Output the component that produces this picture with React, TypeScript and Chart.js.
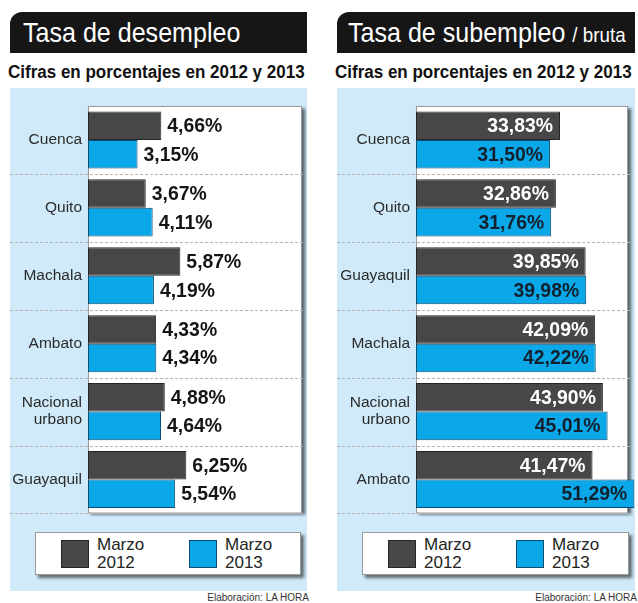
import React, { useEffect, useRef } from "react";
import { Chart, registerables } from "chart.js";
Chart.register(...registerables);

const SANS = "'Liberation Sans', Arial, sans-serif";

const seriesLabels = ["Marzo 2012", "Marzo 2013"];
const seriesColors = ["#474747", "#0aa8e8"];
const seriesBorders = ["#252525", "#0b4a72"];

const desempleoCities = ["Cuenca", "Quito", "Machala", "Ambato", "Nacional urbano", "Guayaquil"];
const desempleo2012 = [4.66, 3.67, 5.87, 4.33, 4.88, 6.25];
const desempleo2013 = [3.15, 4.11, 4.19, 4.34, 4.64, 5.54];
const desempleoMax = 13.6;

const subempleoCities = ["Cuenca", "Quito", "Guayaquil", "Machala", "Nacional urbano", "Ambato"];
const subempleo2012 = [33.83, 32.86, 39.85, 42.09, 43.9, 41.47];
const subempleo2013 = [31.5, 31.76, 39.98, 42.22, 45.01, 51.29];
const subempleoMax = 49.8;

const fmt = (v: number) => v.toFixed(2).replace(".", ",") + "%";
const SQUEEZE = 0.97;

const decorPlugin = {
  id: "decor",
  beforeDraw(chart: any) {
    const { ctx, chartArea } = chart;
    const ys = chart.scales.y;
    ctx.save();
    ctx.shadowColor = "rgba(0,0,0,0.6)";
    ctx.shadowBlur = 3;
    ctx.shadowOffsetX = 3;
    ctx.shadowOffsetY = 2;
    ctx.fillStyle = "#ffffff";
    ctx.fillRect(chartArea.left, chartArea.top, chartArea.right - chartArea.left, chartArea.bottom - chartArea.top);
    ctx.restore();
    ctx.save();
    ctx.strokeStyle = "#9a9a9a";
    ctx.lineWidth = 1;
    ctx.strokeRect(chartArea.left + 0.5, chartArea.top + 0.5, chartArea.right - chartArea.left - 1, chartArea.bottom - chartArea.top - 1);
    ctx.setLineDash([3, 2]);
    ctx.strokeStyle = "#b4b4b4";
    const n = ys.ticks.length;
    for (let i = 1; i <= n; i++) {
      const y = i < n ? (ys.getPixelForValue(i - 1) + ys.getPixelForValue(i)) / 2 : chartArea.bottom;
      ctx.beginPath();
      ctx.moveTo(0, Math.round(y) + 0.5);
      ctx.lineTo(chart.width - 2, Math.round(y) + 0.5);
      ctx.stroke();
    }
    ctx.restore();
  },
};

const labelPlugin = {
  id: "barLabels",
  afterDatasetsDraw(chart: any, _args: any, opts: any) {
    const { ctx } = chart;
    chart.data.datasets.forEach((ds: any, di: number) => {
      const meta = chart.getDatasetMeta(di);
      meta.data.forEach((el: any, i: number) => {
        const txt = fmt(ds.data[i]);
        ctx.save();
        ctx.font = `bold 20px ${SANS}`;
        ctx.textBaseline = "middle";
        if (opts.inside) {
          ctx.translate(el.x - 7, el.y + 1);
          ctx.scale(SQUEEZE, 1);
          ctx.textAlign = "right";
          ctx.fillStyle = di === 0 ? "#ffffff" : "#13202e";
        } else {
          ctx.translate(el.x + 6, el.y + 1);
          ctx.scale(SQUEEZE, 1);
          ctx.textAlign = "left";
          ctx.fillStyle = "#151515";
        }
        ctx.fillText(txt, 0, 0);
        ctx.restore();
      });
    });
  },
};

type PanelProps = {
  left: number;
  width: number;
  title: React.ReactNode;
  titlePad: number;
  titleScale: number;
  cities: string[];
  s2012: number[];
  s2013: number[];
  max: number;
  inside: boolean;
  axisWidth: number;
  padRight: number;
};

function Panel(p: PanelProps) {
  const ref = useRef<HTMLCanvasElement | null>(null);
  useEffect(() => {
    if (!ref.current) return;
    const chart = new Chart(ref.current, {
      type: "bar",
      data: {
        labels: p.cities.map((c) => (c.includes(" ") ? c.split(" ") : c)),
        datasets: [p.s2012, p.s2013].map((d, i) => ({
          label: seriesLabels[i],
          data: d,
          backgroundColor: seriesColors[i],
          borderColor: seriesBorders[i],
          borderWidth: 1,
          borderSkipped: false,
          categoryPercentage: 0.84,
          barPercentage: 1,
          clip: false as any,
        })),
      },
      options: {
        indexAxis: "y",
        animation: false,
        responsive: false,
        devicePixelRatio: 1,
        layout: { padding: { top: 18, bottom: 11, right: p.padRight, left: 0 } },
        scales: {
          x: { display: false, min: 0, max: p.max },
          y: {
            grid: { display: false, drawTicks: false },
            border: { display: false },
            ticks: {
              color: "#2b2b2b",
              padding: 6,
              font: { family: SANS, size: 15.5, lineHeight: 1.1 },
            },
            afterFit: (s: any) => {
              s.width = p.axisWidth;
            },
          },
        },
        plugins: {
          legend: { display: false },
          tooltip: { enabled: false },
          barLabels: { inside: p.inside },
        } as any,
      },
      plugins: [decorPlugin, labelPlugin],
    });
    return () => chart.destroy();
  }, []);

  const box = (color: string, border: string, l: number) => (
    <div
      style={{
        position: "absolute",
        left: l,
        top: 7,
        width: 26,
        height: 26,
        background: color,
        border: `1px solid ${border}`,
      }}
    />
  );
  const txt = (t: string, l: number) => (
    <div
      style={{
        position: "absolute",
        left: l,
        top: 3,
        fontFamily: SANS,
        fontSize: 17,
        lineHeight: "18px",
        color: "#222",
        whiteSpace: "pre",
      }}
    >
      {t}
    </div>
  );

  return (
    <>
      <div
        style={{
          position: "absolute",
          left: p.left,
          top: 12,
          width: p.width,
          height: 41,
          background: "#161616",
          borderTopLeftRadius: 12,
        }}
      >
        <div
          style={{
            position: "absolute",
            left: p.titlePad,
            top: 0,
            color: "#fff",
            fontFamily: SANS,
            fontSize: 28,
            lineHeight: "42px",
            whiteSpace: "nowrap",
            transform: `scaleX(${p.titleScale})`,
            transformOrigin: "0 0",
          }}
        >
          {p.title}
        </div>
      </div>
      <div
        style={{
          position: "absolute",
          left: p.left - 2,
          top: 60,
          fontFamily: SANS,
          fontWeight: "bold",
          fontSize: 18,
          lineHeight: "24px",
          color: "#111",
          whiteSpace: "nowrap",
          transform: "scaleX(0.944)",
          transformOrigin: "0 0",
        }}
      >
        Cifras en porcentajes en 2012 y 2013
      </div>
      <div
        style={{
          position: "absolute",
          left: p.left,
          top: 88,
          width: p.width,
          height: 503,
          background: "#d0eaf9",
        }}
      >
        <canvas ref={ref} width={p.width} height={440} style={{ position: "absolute", left: 0, top: 0 }} />
        <div
          style={{
            position: "absolute",
            left: 25,
            top: 444,
            width: p.width - 31,
            height: 43,
            background: "#fff",
            border: "1px solid #9a9a9a",
            boxSizing: "border-box",
            boxShadow: "3px 3px 3px rgba(0,0,0,0.55)",
          }}
        >
          {box(seriesColors[0], seriesBorders[0], 25)}
          {txt("Marzo\n2012", 61)}
          {box(seriesColors[1], seriesBorders[1], 153)}
          {txt("Marzo\n2013", 189)}
        </div>
      </div>
      <div
        style={{
          position: "absolute",
          left: p.left,
          top: 593,
          width: p.width + 2,
          textAlign: "right",
          fontFamily: SANS,
          fontSize: 10,
          lineHeight: "10px",
          color: "#333",
        }}
      >
        Elaboración: LA HORA
      </div>
    </>
  );
}

export default function App() {
  return (
    <div
      style={{
        position: "absolute",
        left: 0,
        top: 0,
        width: 638,
        height: 603,
        background: "#fff",
        overflow: "hidden",
      }}
    >
      <Panel
        left={10}
        width={297}
        title={<span>Tasa de desempleo</span>}
        titlePad={13}
        titleScale={0.895}
        cities={desempleoCities}
        s2012={desempleo2012}
        s2013={desempleo2013}
        max={desempleoMax}
        inside={false}
        axisWidth={78}
        padRight={5}
      />
      <Panel
        left={337}
        width={298}
        title={
          <span>
            Tasa de subempleo <span style={{ fontSize: 21 }}>/ bruta</span>
          </span>
        }
        titlePad={11}
        titleScale={0.895}
        cities={subempleoCities}
        s2012={subempleo2012}
        s2013={subempleo2013}
        max={subempleoMax}
        inside={true}
        axisWidth={79}
        padRight={7}
      />
    </div>
  );
}
